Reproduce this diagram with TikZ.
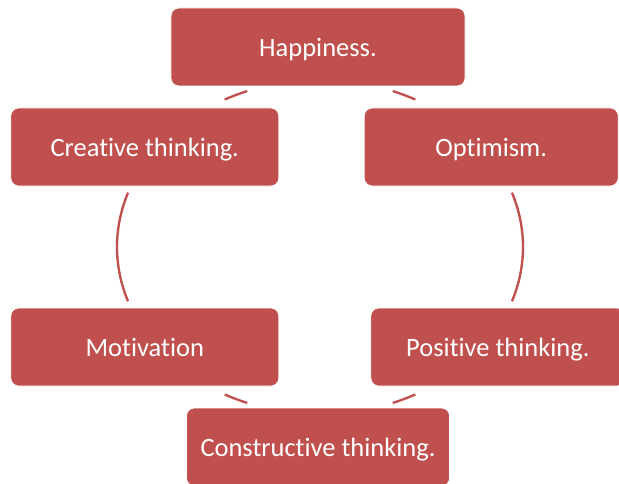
\documentclass[tikz,border=0pt]{standalone}
\usepackage{fontspec}
\setmainfont{Carlito}[Ligatures = NoCommon]
\definecolor{cyclered}{HTML}{C0504D}

\begin{document}
\begin{tikzpicture}[
    stage/.style = {shape = rectangle, rounded corners = 0.24cm, fill = cyclered, draw = white, line width = 0.6pt,
        text = white, minimum height = 2.34cm, text height = 0.65cm, text depth = 0.08cm,
        font = \fontsize{22.6}{27}\selectfont},
    link/.style = {draw = cyclered, line width = 2pt}]
    \useasboundingbox (-9.54,-7.08) rectangle (9.03,7.41);
    % the six stages, round the cycle
    \node [stage, minimum width = 8.82cm] (happy) at (90:6) {Happiness.};
    \node [stage, minimum width = 7.62cm] (optim) at (30:6) {Optimism.};
    \node [stage, minimum width = 7.62cm, xshift = 0.2cm] (posit) at (-30:6) {Positive thinking.};
    \node [stage, minimum width = 7.89cm] (constr) at (-90:6) {Constructive thinking.};
    \node [stage, minimum width = 8.04cm] (motiv) at (210:6) {Motivation};
    \node [stage, minimum width = 8.04cm] (creat) at (150:6) {Creative thinking.};
    % arcs between them
    \coordinate (mid) at (0.06,0);
    \foreach \a/\b in {69/62, 19/-19, -62/-69, -111/-118, 199/161, 118/111}
        \draw [link] (mid) ++(\a:6.09 and 5.01) arc [start angle = \a, end angle = \b, x radius = 6.09cm, y radius = 5.01cm];
\end{tikzpicture}
\end{document}
